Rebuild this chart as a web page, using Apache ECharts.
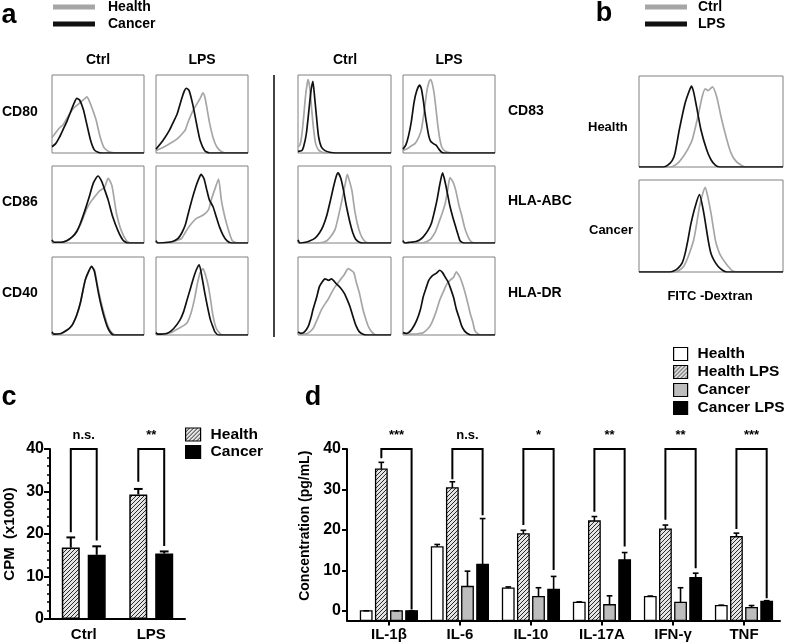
<!DOCTYPE html>
<html><head><meta charset="utf-8">
<script src="https://cdn.jsdelivr.net/npm/echarts@6/dist/echarts.min.js"></script>
<style>html,body{margin:0;padding:0;background:#fff}#chart{width:787px;height:644px}</style>
</head><body><div id="chart"></div>
<script>
// ---------- Panel a : flow cytometry histograms ([x%, count%]) ----------
var aColumns = ['Ctrl', 'LPS'];
var aLeftMarkers = ['CD80', 'CD86', 'CD40'];
var aRightMarkers = ['CD83', 'HLA-ABC', 'HLA-DR'];
var aLegendNames = ['Health', 'Cancer'];

var cd80CtrlHealth = [[0,20],[4,26],[8,32],[12,36],[16,44],[20,52],[24,58],[28,62],[32,66],[36,70],[38,72],[40,68],[44,56],[48,42],[52,22],[56,8],[60,3],[64,1],[70,0],[100,0]];
var cd80CtrlCancer = [[0,8],[4,12],[8,20],[12,30],[16,40],[20,52],[24,64],[27,70],[30,68],[34,56],[38,36],[42,16],[46,4],[50,1],[54,0],[100,0]];
var cd80LpsHealth = [[0,3],[6,6],[12,10],[18,14],[23,18],[28,24],[32,30],[35,40],[40,54],[44,62],[48,70],[51,77],[53,72],[55,60],[58,40],[62,20],[66,8],[71,2],[76,0],[100,0]];
var cd80LpsCancer = [[0,5],[7,15],[15,30],[19,40],[23,50],[28,70],[31,80],[33,83],[36,80],[40,62],[44,38],[48,16],[53,3],[58,0],[100,0]];
var cd86CtrlHealth = [[0,4],[2,1],[10,1],[16,3],[22,8],[27,16],[31,24],[35,36],[38,45],[43,55],[47,61],[52,68],[57,72],[61,84],[65,75],[68,54],[70,39],[75,17],[81,3],[86,0],[100,0]];
var cd86CtrlCancer = [[0,4],[2,1],[10,1],[16,3],[22,8],[27,15],[31,26],[36,43],[40,58],[45,78],[50,87],[54,80],[57,70],[61,56],[66,34],[72,15],[77,4],[82,0],[100,0]];
var cd86LpsHealth = [[0,3],[2,0],[14,1],[20,2],[24,4],[28,6],[32,14],[37,23],[44,32],[51,36],[57,43],[60,56],[64,70],[68,83],[71,56],[74,38],[77,24],[80,12],[83,3],[88,0],[100,0]];
var cd86LpsCancer = [[0,3],[2,0],[14,1],[20,3],[24,6],[28,13],[32,24],[35,38],[39,56],[43,72],[46,82],[49,89],[52,84],[55,70],[58,56],[62,47],[66,32],[69,21],[73,10],[77,3],[82,0],[100,0]];
var cd40CtrlHealth = [[0,4],[2,1],[10,2],[16,6],[20,10],[23,15],[27,26],[31,42],[36,70],[40,82],[43,87],[46,84],[50,60],[53,44],[56,30],[60,14],[63,6],[67,1],[72,0],[100,0]];
var cd40CtrlCancer = [[0,4],[2,1],[10,2],[16,6],[20,10],[23,15],[27,26],[31,42],[36,70],[40,82],[43,88],[46,82],[50,57],[53,40],[56,26],[60,11],[63,4],[67,0],[100,0]];
var cd40LpsHealth = [[0,3],[2,1],[12,2],[18,4],[24,8],[30,12],[34,16],[38,28],[42,47],[45,66],[48,80],[51,85],[54,76],[57,62],[60,40],[62,24],[65,10],[68,4],[72,0],[100,0]];
var cd40LpsCancer = [[0,3],[2,1],[12,2],[19,8],[26,19],[30,30],[34,46],[38,62],[41,74],[44,84],[47,90],[50,74],[53,54],[56,36],[59,20],[62,10],[64,4],[68,0],[100,0]];
var cd83CtrlHealth = [[0,8],[2,10],[4,22],[6,45],[8,72],[10,90],[11,94],[13,80],[15,52],[17,28],[19,12],[22,4],[26,1],[32,0],[100,0]];
var cd83CtrlCancer = [[0,2],[4,3],[6,8],[9,25],[12,58],[14,80],[16,92],[18,70],[20,45],[22,22],[25,8],[29,3],[34,1],[40,0],[100,0]];
var cd83LpsHealth = [[0,3],[4,5],[9,9],[13,12],[17,20],[20,30],[22,45],[24,62],[26,80],[28,90],[30,94],[32,88],[34,75],[36,55],[38,34],[40,18],[42,8],[45,3],[49,1],[55,0],[100,0]];
var cd83LpsCancer = [[0,5],[3,10],[6,22],[9,40],[12,65],[15,80],[18,87],[20,82],[22,68],[24,50],[26,35],[28,22],[30,15],[33,12],[36,10],[39,5],[42,1],[45,0],[100,0]];
var hlaAbcCtrlHealth = [[0,4],[2,0],[20,0],[27,1],[31,3],[35,8],[40,18],[45,43],[48,60],[51,78],[53,89],[55,82],[58,68],[61,42],[64,24],[67,12],[70,5],[73,1],[78,0],[100,0]];
var hlaAbcCtrlCancer = [[0,4],[2,0],[8,1],[13,3],[18,6],[23,13],[27,22],[31,36],[35,56],[38,72],[41,86],[43,91],[46,84],[49,68],[52,48],[56,26],[59,13],[62,5],[66,1],[70,0],[100,0]];
var hlaAbcLpsHealth = [[0,3],[2,0],[20,0],[26,2],[30,5],[35,14],[40,30],[43,40],[46,52],[49,72],[51,85],[54,80],[57,70],[61,48],[64,35],[67,20],[69,13],[72,5],[75,1],[79,0],[100,0]];
var hlaAbcLpsCancer = [[0,3],[2,0],[8,1],[14,2],[18,4],[22,8],[27,16],[31,26],[34,40],[37,56],[40,76],[43,91],[46,78],[49,60],[51,48],[54,34],[57,22],[60,10],[62,3],[66,0],[100,0]];
var hlaDrCtrlHealth = [[0,3],[4,1],[10,2],[16,8],[20,18],[25,32],[28,38],[32,45],[36,54],[40,62],[45,70],[50,78],[54,85],[57,83],[60,80],[63,66],[66,54],[70,32],[73,20],[76,10],[80,3],[84,0],[100,0]];
var hlaDrCtrlCancer = [[0,4],[3,2],[7,4],[11,11],[14,22],[16,32],[20,48],[23,62],[26,68],[29,72],[33,70],[36,72],[41,66],[46,60],[50,53],[53,45],[56,36],[59,24],[62,13],[66,4],[70,1],[74,0],[100,0]];
var hlaDrLpsHealth = [[0,3],[3,1],[12,1],[18,2],[22,3],[27,8],[31,15],[36,30],[40,45],[44,56],[48,66],[52,71],[55,74],[58,81],[60,78],[62,74],[65,64],[68,52],[71,38],[73,28],[76,16],[78,6],[82,1],[85,0],[100,0]];
var hlaDrLpsCancer = [[0,3],[3,2],[6,3],[10,8],[15,19],[19,33],[22,49],[25,60],[28,70],[32,76],[36,79],[40,83],[43,80],[46,74],[49,68],[51,62],[55,48],[58,33],[61,22],[64,11],[67,5],[70,2],[74,0],[100,0]];

// ---------- Panel b : FITC-Dextran uptake ----------
var bRows = ['Health', 'Cancer'];
var bLegendNames = ['Ctrl', 'LPS'];
var bHealthCtrl = [[0,0],[22,0],[25,2],[28,6],[31,12],[34,20],[37,30],[41,56],[44,78],[46,86],[48,84],[51,88],[54,77],[57,55],[61,30],[64,15],[67,7],[70,3],[74,0],[100,0]];
var bHealthLps = [[0,0],[17,0],[20,2],[23,7],[25,15],[28,41],[32,70],[35,84],[36.5,89],[38,82],[40,66],[43,41],[47,19],[50,8],[53,2],[56,0],[100,0]];
var bCancerCtrl = [[0,0],[25,0],[28,2],[31,6],[34,16],[38,35],[40,52],[42,71],[44,84],[46,92],[48,80],[50,64],[53,35],[55,24],[57,17],[60,10],[62,6],[65,1],[68,0],[100,0]];
var bCancerLps = [[0,0],[21,0],[24,1],[27,4],[30,10],[32,20],[34,35],[36,52],[39,71],[42,84],[45,64],[48,35],[50,20],[52,13],[55,6],[58,2],[61,0],[100,0]];

// ---------- Panel c : CPM ----------
var cCats = ['Ctrl', 'LPS'];
var cHealth = [16.8, 29.3];
var cHealthSem = [2.4, 1.3];
var cCancer = [15.1, 15.4];
var cCancerSem = [2.0, 0.5];
var cBracketLeft = [20.4, 32.3];
var cBracketRight = [18.5, 17.2];
var cBracketTop = [40, 40];
var cSig = ['n.s.', '**'];

// ---------- Panel d : cytokines ----------
var dCats = ['IL-1β', 'IL-6', 'IL-10', 'IL-17A', 'IFN-γ', 'TNF'];
var dHealth = [0, 15.8, 5.6, 2.1, 3.5, 1.3];
var dHealthSem = [0, 0.6, 0.3, 0.1, 0.15, 0.1];
var dHealthLps = [35.0, 30.4, 19.0, 22.2, 20.2, 18.3];
var dHealthLpsSem = [1.7, 1.5, 0.9, 1.1, 1.0, 0.9];
var dCancer = [0, 6.0, 3.5, 1.5, 2.1, 0.8];
var dCancerSem = [0, 3.8, 2.2, 2.2, 3.6, 0.5];
var dCancerLps = [0, 11.5, 5.3, 12.6, 8.2, 2.3];
var dCancerLpsSem = [0, 11.3, 3.2, 1.8, 1.1, 0.2];
var dBracketLeft = [37.7, 32.5, 21.2, 24.5, 22.5, 20.2];
var dBracketRight = [0.3, 23.6, 10.1, 15.9, 10.5, 3.1];
var dBracketTop = [40, 40, 40, 40, 40, 40];
var dSig = ['***', 'n.s.', '*', '**', '**', '***'];
var dTicks = [0, 10, 20, 30, 40];

// ---------- styles ----------
var FONT = 'Arial, "Liberation Sans", sans-serif';
var GRAY = '#a6a6a6', BLACK = '#111111';
function makeHatch() {
  var c = document.createElement('canvas'); c.width = 4; c.height = 4;
  var g = c.getContext('2d');
  g.fillStyle = '#e4e4e4'; g.fillRect(0, 0, 4, 4);
  g.fillStyle = '#2a2a2a';
  for (var i = 0; i < 4; i++) g.fillRect(i, 3 - i, 1, 1);
  return c;
}
var HATCH = { image: makeHatch(), repeat: 'repeat' };

var grids = [], xAxes = [], yAxes = [], series = [];
function addHist(left, top, w, h, curves, names) {
  var gi = grids.length;
  grids.push({ left: left, top: top, width: w, height: h, show: true, borderColor: '#808080', borderWidth: 1, backgroundColor: 'transparent' });
  xAxes.push({ gridIndex: gi, type: 'value', min: 0, max: 100, show: false });
  yAxes.push({ gridIndex: gi, type: 'value', min: 0, max: 100, show: false });
  curves.forEach(function (d, k) {
    series.push({ type: 'line', name: names[k], xAxisIndex: gi, yAxisIndex: gi, data: d, showSymbol: false, symbol: 'none',
      smooth: 0.2, silent: true, z: k ? 3 : 2,
      lineStyle: { color: k ? BLACK : GRAY, width: 1.7 }, itemStyle: { color: k ? BLACK : GRAY } });
  });
}

var histA = [
  [[cd80CtrlHealth, cd80CtrlCancer], [cd80LpsHealth, cd80LpsCancer], [cd83CtrlHealth, cd83CtrlCancer], [cd83LpsHealth, cd83LpsCancer]],
  [[cd86CtrlHealth, cd86CtrlCancer], [cd86LpsHealth, cd86LpsCancer], [hlaAbcCtrlHealth, hlaAbcCtrlCancer], [hlaAbcLpsHealth, hlaAbcLpsCancer]],
  [[cd40CtrlHealth, cd40CtrlCancer], [cd40LpsHealth, cd40LpsCancer], [hlaDrCtrlHealth, hlaDrCtrlCancer], [hlaDrLpsHealth, hlaDrLpsCancer]]
];
var aColX = [52, 156, 298, 403], aColW = [92, 92, 93, 92];
var aRowY = [75, 166, 257], aRowH = [78, 77, 78];
var aNames = aLegendNames.map(function (n) { return n + '|a'; });
for (var r = 0; r < 3; r++) for (var c = 0; c < 4; c++) addHist(aColX[c], aRowY[r], aColW[c], aRowH[r], histA[r][c], aNames);

var bNames = bLegendNames.map(function (n) { return n + '|b'; });
addHist(639, 76, 144, 91, [bHealthCtrl, bHealthLps], bNames);
addHist(639, 180, 144, 92, [bCancerCtrl, bCancerLps], bNames);

var axisLine = { show: true, onZero: false, lineStyle: { color: '#000', width: 2 } };
var tickLbl = { color: '#000', fontWeight: 'bold', fontFamily: FONT, fontSize: 16 };

// ---------- panel c ----------
var gc = grids.length;
grids.push({ left: 50, top: 449, width: 135, height: 170 });
xAxes.push({ gridIndex: gc, type: 'category', data: cCats, axisLine: axisLine,
  axisTick: { alignWithLabel: true, length: 5, lineStyle: { color: '#000', width: 2 } },
  axisLabel: { color: '#000', fontWeight: 'bold', fontFamily: FONT, fontSize: 15, margin: 8 } });
yAxes.push({ gridIndex: gc, type: 'value', min: 0, max: 40, interval: 10, axisLine: axisLine,
  axisTick: { show: true, length: 6, lineStyle: { color: '#000', width: 2 } },
  minorTick: { show: true, splitNumber: 5, length: 3, lineStyle: { color: '#000', width: 1.5 } },
  splitLine: { show: false }, axisLabel: Object.assign({ margin: 6 }, tickLbl),
  name: 'CPM  (x1000)', nameLocation: 'middle', nameRotate: 90, nameGap: 33,
  nameTextStyle: { color: '#000', fontWeight: 'bold', fontFamily: FONT, fontSize: 15 } });
series.push({ type: 'bar', name: 'Health|c', xAxisIndex: gc, yAxisIndex: gc, data: cHealth, barWidth: 18, barGap: '44%',
  itemStyle: { color: HATCH, borderColor: '#000', borderWidth: 1.5 }, z: 2 });
series.push({ type: 'bar', name: 'Cancer|c', xAxisIndex: gc, yAxisIndex: gc, data: cCancer, barWidth: 18, barGap: '44%',
  itemStyle: { color: '#000', borderColor: '#000', borderWidth: 1.5 }, z: 2 });

function errRender(offFrac, capFrac, lw) {
  return function (params, api) {
    var i = api.value(0), u = api.size([1, 0])[0];
    var p0 = api.coord([i, api.value(1)]), p1 = api.coord([i, api.value(2)]);
    var cx = p0[0] + offFrac * u, cw = capFrac * u;
    var st = { stroke: '#000', lineWidth: lw };
    return { type: 'group', children: [
      { type: 'line', shape: { x1: cx, y1: p0[1], x2: cx, y2: p1[1] }, style: st },
      { type: 'line', shape: { x1: cx - cw / 2, y1: p1[1], x2: cx + cw / 2, y2: p1[1] }, style: st } ] };
  };
}
function bracketRender(offL, offR, labels, lw) {
  return function (params, api) {
    var i = api.value(0), u = api.size([1, 0])[0];
    var pl = api.coord([i, api.value(1)]), pr = api.coord([i, api.value(2)]), pt = api.coord([i, api.value(3)]);
    var xl = pl[0] + offL * u, xr = pr[0] + offR * u;
    return { type: 'group', children: [
      { type: 'polyline', shape: { points: [[xl, pl[1]], [xl, pt[1]], [xr, pt[1]], [xr, pr[1]]] }, style: { stroke: '#000', lineWidth: lw, fill: null } },
      { type: 'text', x: (xl + xr) / 2, y: pt[1] - 7, style: { text: labels[params.dataIndex], font: 'bold 13px ' + FONT, fill: '#000',
        textAlign: 'center', align: 'center', textVerticalAlign: 'bottom', verticalAlign: 'bottom' } } ] };
  };
}
function withErr(vals, sems) { return vals.map(function (v, i) { return [i, v, v + sems[i]]; }); }
function brk(l, r, t) { return l.map(function (v, i) { return [i, v, r[i], t[i]]; }); }

series.push({ type: 'custom', xAxisIndex: gc, yAxisIndex: gc, renderItem: errRender(-0.192, 0.13, 2), data: withErr(cHealth, cHealthSem), z: 3, silent: true });
series.push({ type: 'custom', xAxisIndex: gc, yAxisIndex: gc, renderItem: errRender(0.192, 0.13, 2), data: withErr(cCancer, cCancerSem), z: 3, silent: true });
series.push({ type: 'custom', xAxisIndex: gc, yAxisIndex: gc, renderItem: bracketRender(-0.192, 0.192, cSig, 2), data: brk(cBracketLeft, cBracketRight, cBracketTop), z: 4, silent: true });

// ---------- panel d ----------
var gd = grids.length;
grids.push({ left: 347, top: 449, width: 433, height: 171.5 });
var dIdx = dCats.map(function (c, i) { return i; });
xAxes.push({ gridIndex: gd, type: 'value', min: -0.59, max: 5.507, axisLine: axisLine, splitLine: { show: false },
  axisTick: { customValues: dIdx, length: 5, lineStyle: { color: '#000', width: 2 } },
  axisLabel: { customValues: dIdx, formatter: function (v) { return dCats[Math.round(v)] || ''; }, color: '#000', fontWeight: 'bold', fontFamily: FONT, fontSize: 15, margin: 7 } });
yAxes.push({ gridIndex: gd, type: 'value', min: -2.4, max: 40, axisLine: axisLine, splitLine: { show: false },
  axisTick: { customValues: dTicks, length: 5, lineStyle: { color: '#000', width: 2 } },
  axisLabel: Object.assign({ customValues: dTicks, margin: 6 }, tickLbl),
  name: 'Concentration (pg/mL)', nameLocation: 'middle', nameRotate: 90, nameGap: 27,
  nameTextStyle: { color: '#000', fontWeight: 'bold', fontFamily: FONT, fontSize: 14, padding: [0, 0, 0, 18] } });

var D_PITCH = 0.213, D_W = 0.162;
function dBarRender(k, fill) {
  return function (params, api) {
    var i = api.value(0), u = api.size([1, 0])[0];
    var p = api.coord([i, api.value(1)]);
    var w = D_W * u, x = p[0] + (k - 1.5) * D_PITCH * u - w / 2;
    var bottom = params.coordSys.y + params.coordSys.height;
    return { type: 'rect', shape: { x: x, y: p[1], width: w, height: bottom - p[1] }, style: { fill: fill, stroke: '#000', lineWidth: 1.3 } };
  };
}
var dSeries = [['Health', dHealth, dHealthSem, '#ffffff'], ['Health LPS', dHealthLps, dHealthLpsSem, HATCH],
               ['Cancer', dCancer, dCancerSem, '#bdbdbd'], ['Cancer LPS', dCancerLps, dCancerLpsSem, '#000000']];
dSeries.forEach(function (s, k) {
  series.push({ type: 'custom', name: s[0] + '|d', xAxisIndex: gd, yAxisIndex: gd, renderItem: dBarRender(k, s[3]),
    data: s[1].map(function (v, i) { return [i, v]; }), itemStyle: { color: s[3], borderColor: '#000', borderWidth: 1.2 }, z: 2, silent: true });
  series.push({ type: 'custom', xAxisIndex: gd, yAxisIndex: gd, renderItem: errRender((k - 1.5) * D_PITCH, 0.08, 1.6),
    data: withErr(s[1], s[2]), z: 3, silent: true });
});
series.push({ type: 'custom', xAxisIndex: gd, yAxisIndex: gd, renderItem: bracketRender(-0.5 * D_PITCH, 1.5 * D_PITCH, dSig, 2),
  data: brk(dBracketLeft, dBracketRight, dBracketTop), z: 4, silent: true });

// ---------- text ----------
function txt(x, y, s, size, align) {
  return { type: 'text', x: x, y: y, silent: true, style: { text: s, font: 'bold ' + size + 'px ' + FONT, fill: '#000',
    textAlign: align || 'center', align: align || 'center', textVerticalAlign: 'middle', verticalAlign: 'middle' } };
}
var graphics = [
  txt(9, 16, 'a', 27), txt(604, 14, 'b', 27), txt(9, 398, 'c', 27), txt(313, 398, 'd', 27),
  txt(98, 60, aColumns[0], 14), txt(202, 60, aColumns[1], 14), txt(345, 60, aColumns[0], 14), txt(449, 60, aColumns[1], 14),
  txt(2, 112, aLeftMarkers[0], 14, 'left'), txt(2, 202, aLeftMarkers[1], 14, 'left'), txt(2, 293, aLeftMarkers[2], 14, 'left'),
  txt(508, 111, aRightMarkers[0], 14, 'left'), txt(508, 201, aRightMarkers[1], 14, 'left'), txt(508, 293, aRightMarkers[2], 14, 'left'),
  txt(588, 127, bRows[0], 13, 'left'), txt(589, 230, bRows[1], 13, 'left'), txt(710, 296, 'FITC -Dextran', 13),
  { type: 'line', silent: true, shape: { x1: 274, y1: 75, x2: 274, y2: 337 }, style: { stroke: '#444', lineWidth: 2 } }
];

function strip(n) { return n.split('|')[0]; }
var legends = [
  { data: aNames, left: 53, top: 0, orient: 'vertical', padding: 0, itemGap: 3, itemWidth: 42, itemHeight: 5, icon: 'rect',
    lineStyle: { width: 5 }, formatter: strip, selectedMode: false,
    textStyle: { fontFamily: FONT, fontWeight: 'bold', fontSize: 14, lineHeight: 14, color: '#000', padding: [0, 0, 0, 8] } },
  { data: bNames, left: 645, top: 0, orient: 'vertical', padding: 0, itemGap: 3, itemWidth: 42, itemHeight: 5, icon: 'rect',
    lineStyle: { width: 5 }, formatter: strip, selectedMode: false,
    textStyle: { fontFamily: FONT, fontWeight: 'bold', fontSize: 14, lineHeight: 14, color: '#000', padding: [0, 0, 0, 6] } },
  { data: ['Health|c', 'Cancer|c'], left: 185, top: 426.5, orient: 'vertical', padding: 0, itemGap: 1.5, itemWidth: 15, itemHeight: 13, icon: 'rect',
    itemStyle: { borderColor: '#000', borderWidth: 1.2 }, formatter: strip, selectedMode: false,
    textStyle: { fontFamily: FONT, fontWeight: 'bold', fontSize: 15.5, lineHeight: 16, color: '#000', padding: [0, 0, 0, 5] } },
  { data: dSeries.map(function (s) { return s[0] + '|d'; }), left: 673, top: 346, orient: 'vertical', padding: 0, itemGap: 2, itemWidth: 14, itemHeight: 13, icon: 'rect',
    itemStyle: { borderColor: '#000', borderWidth: 1.2 }, formatter: strip, selectedMode: false,
    textStyle: { fontFamily: FONT, fontWeight: 'bold', fontSize: 15.5, lineHeight: 16, color: '#000', padding: [0, 0, 0, 5] } }
];

var chart = echarts.init(document.getElementById('chart'), null, { renderer: 'canvas' });
chart.setOption({
  animation: false, backgroundColor: '#ffffff',
  grid: grids, xAxis: xAxes, yAxis: yAxes, series: series, legend: legends, graphic: graphics
});
</script></body></html>
